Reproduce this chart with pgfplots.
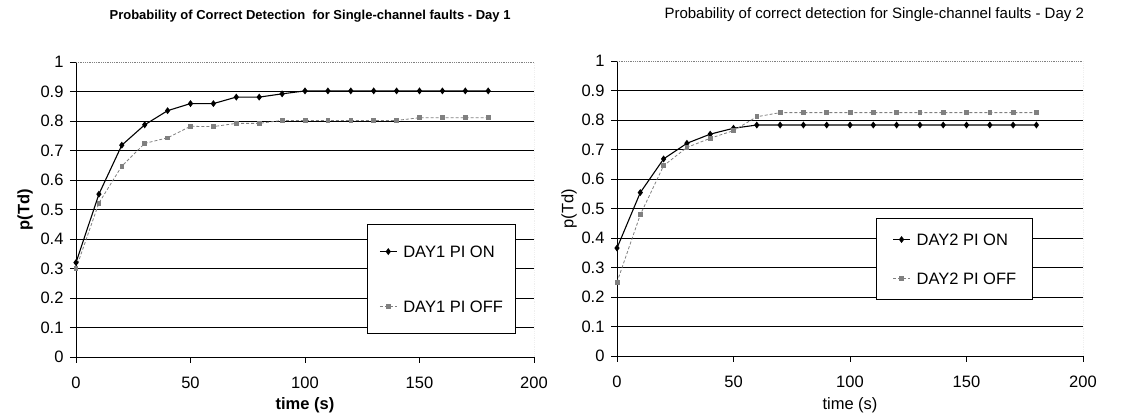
\documentclass[border=0pt]{standalone}
\usepackage{fontspec}
\setmainfont{Liberation Sans}
\usepackage{pgfplots}
\pgfplotsset{compat=1.18}

\pgfplotsset{
  daychart/.style={
    scale only axis,
    axis lines*=left,
    xmin=0, xmax=200, ymin=0, ymax=1,
    xtick={0,50,...,200},
    ytick={0,0.1,...,0.9},
    extra y ticks={1},
    extra y tick style={grid=none},
    ymajorgrids,
    major grid style={black, line width=0.9pt},
    axis line style={black, line width=0.9pt},
    tick style={black, line width=0.9pt},
    tick align=outside,
    major tick length=6pt,
    /pgf/number format/assume math mode=true,
    tick label style={font=\fontsize{16.5}{20}\selectfont},
    xticklabel style={yshift=-10pt},
    yticklabel style={xshift=-3pt},
    label style={font=\fontsize{16.5}{20}\selectfont},
    legend cell align=left,
    legend style={draw=black, line width=0.8pt, fill=white, anchor=south west,
      font=\fontsize{16.5}{20}\selectfont, column sep=6pt,
      nodes={inner sep=0pt, text height=12pt, text depth=0pt}},
    legend image code/.code={
      \draw[mark repeat=2, mark phase=2, #1] plot coordinates {(0pt,0pt) (8.5pt,0pt) (17pt,0pt)};},
  },
  onstyle/.style={black, line width=1.1pt, mark=diamond*, mark size=2.6pt,
    mark options={solid, fill=black}},
  offstyle/.style={gray, line width=0.8pt, densely dashed, mark=square*, mark size=1.9pt,
    mark options={solid, fill=gray, draw=gray}},
}

\begin{document}
\begin{tikzpicture}
\useasboundingbox (0,0) rectangle (1125pt,414pt);

% Day 1
\begin{axis}[daychart,
  at={(76pt,57pt)}, anchor=south west, width=458pt, height=295pt,
  title={\fontsize{13}{16}\selectfont\bfseries Probability of Correct Detection\ \ for Single-channel faults - Day 1},
  title style={at={(axis description cs:0.511,1.135)}, anchor=center},
  xlabel={\bfseries time (s)}, ylabel={\bfseries p(Td)},
  xlabel style={at={(axis description cs:0.5,-0.162)}, anchor=center},
  ylabel style={at={(axis description cs:-0.111,0.5)}, anchor=center},
  legend style={at={(axis description cs:0.635,0.078)}, inner xsep=12pt, inner ysep=21pt, row sep=43pt},
  ]
  \draw[gray, densely dotted, line width=0.8pt] (rel axis cs:0,1) -- (rel axis cs:1,1) -- (rel axis cs:1,0);
  \addplot[onstyle] coordinates {
    (0,0.320) (10,0.552) (20,0.718) (30,0.787) (40,0.835) (50,0.859) (60,0.859)
    (70,0.881) (80,0.881) (90,0.892) (100,0.902) (110,0.902) (120,0.902) (130,0.902)
    (140,0.902) (150,0.902) (160,0.902) (170,0.902) (180,0.902)
  };
  \addplot[offstyle] coordinates {
    (0,0.300) (10,0.522) (20,0.647) (30,0.724) (40,0.743) (50,0.782) (60,0.781)
    (70,0.792) (80,0.792) (90,0.802) (100,0.802) (110,0.802) (120,0.802) (130,0.802)
    (140,0.802) (150,0.811) (160,0.811) (170,0.811) (180,0.811)
  };
  \legend{DAY1 PI ON, DAY1 PI OFF}
\end{axis}

% Day 2
\begin{axis}[daychart,
  at={(617pt,58pt)}, anchor=south west, width=466pt, height=295pt,
  title={\fontsize{15}{18}\selectfont Probability of correct detection for Single-channel faults - Day 2},
  title style={at={(axis description cs:0.552,1.136)}, anchor=center},
  xlabel={time (s)}, ylabel={p(Td)},
  xlabel style={at={(axis description cs:0.5,-0.166)}, anchor=center},
  ylabel style={at={(axis description cs:-0.103,0.5)}, anchor=center},
  legend style={at={(axis description cs:0.556,0.19)}, inner xsep=16pt, inner ysep=15pt, row sep=27pt},
  ]
  \draw[gray, densely dotted, line width=0.8pt] (rel axis cs:0,1) -- (rel axis cs:1,1) -- (rel axis cs:1,0);
  \addplot[onstyle] coordinates {
    (0,0.366) (10,0.554) (20,0.668) (30,0.721) (40,0.752) (50,0.772) (60,0.783)
    (70,0.783) (80,0.783) (90,0.783) (100,0.783) (110,0.783) (120,0.783) (130,0.783)
    (140,0.783) (150,0.783) (160,0.783) (170,0.783) (180,0.783)
  };
  \addplot[offstyle] coordinates {
    (0,0.250) (10,0.479) (20,0.645) (30,0.707) (40,0.738) (50,0.764) (60,0.811)
    (70,0.825) (80,0.825) (90,0.825) (100,0.825) (110,0.825) (120,0.825) (130,0.825)
    (140,0.825) (150,0.825) (160,0.825) (170,0.825) (180,0.825)
  };
  \legend{DAY2 PI ON, DAY2 PI OFF}
\end{axis}
\end{tikzpicture}
\end{document}
